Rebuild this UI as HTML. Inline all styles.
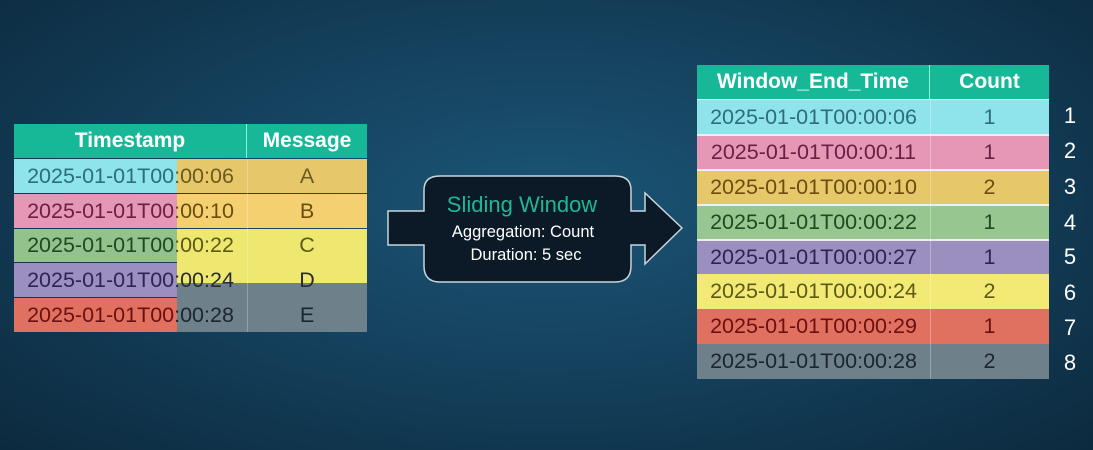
<!DOCTYPE html>
<html><head><meta charset="utf-8"><style>
body{margin:0;width:1093px;height:450px;overflow:hidden;background:radial-gradient(ellipse at 50% 45%,#1b5575 0%,#14405c 50%,#0c2a3e 100%);font-family:"Liberation Sans",sans-serif;position:relative}
.c{position:absolute;display:flex;align-items:center;justify-content:center;box-sizing:border-box;font-size:21.5px}
.h{background:#17b897;color:#fff;font-weight:bold;font-size:21px}
.n{position:absolute;color:#fff;font-size:22px;width:20px;text-align:center}
</style></head><body>
<!-- left table -->
<div class="c h" style="left:14px;top:124px;width:233px;height:34px;border-right:1px solid #8fd;">Timestamp</div>
<div class="c h" style="left:247px;top:124px;width:120px;height:34px">Message</div>
<div class="c" style="left:14px;top:159px;width:353px;height:34px;background:#8fe3ea"></div>
<div class="c" style="left:14px;top:194px;width:353px;height:34px;background:#e597b5"></div>
<div class="c" style="left:14px;top:229px;width:353px;height:33px;background:#93c28c"></div>
<div class="c" style="left:14px;top:263px;width:353px;height:34px;background:#9b8fc0"></div>
<div class="c" style="left:14px;top:298px;width:353px;height:34px;background:#e0705f"></div>
<div style="position:absolute;left:177px;top:159px;width:190px;height:34px;background:#e6c86a"></div>
<div style="position:absolute;left:177px;top:194px;width:190px;height:34px;background:#f5d070"></div>
<div style="position:absolute;left:177px;top:229px;width:190px;height:54px;background:#eee870"></div>
<div style="position:absolute;left:177px;top:283px;width:190px;height:49px;background:#6e808a"></div>
<div style="position:absolute;left:247px;top:159px;width:1px;height:173px;background:rgba(255,255,255,.25)"></div>
<div class="c" style="left:14px;top:159px;width:233px;height:34px;color:#2d6e78">2025-01-01T00<span style="color:#6b5a20">:00:06</span></div>
<div class="c" style="left:14px;top:194px;width:233px;height:34px;color:#6a1f45">2025-01-01T00<span style="color:#6b4d10">:00:10</span></div>
<div class="c" style="left:14px;top:229px;width:233px;height:33px;color:#1f4a1f">2025-01-01T00<span style="color:#5c5a15">:00:22</span></div>
<div class="c" style="left:14px;top:263px;width:233px;height:34px;color:#2f2355">2025-01-01T00<span style="color:#2a2a35">:00:24</span></div>
<div class="c" style="left:14px;top:298px;width:233px;height:34px;color:#6b1010">2025-01-01T00<span style="color:#1a2530">:00:28</span></div>
<div class="c" style="left:247px;top:159px;width:120px;height:34px;color:#6b5a20">A</div>
<div class="c" style="left:247px;top:194px;width:120px;height:34px;color:#6b4d10">B</div>
<div class="c" style="left:247px;top:229px;width:120px;height:33px;color:#5c5a15">C</div>
<div class="c" style="left:247px;top:263px;width:120px;height:34px;color:#2a2a35">D</div>
<div class="c" style="left:247px;top:298px;width:120px;height:34px;color:#1a2530">E</div>
<!-- arrow -->
<svg style="position:absolute;left:0;top:0" width="1093" height="450">
<path d="M388 211 H424 V190 Q424 176 440 176 H615 Q631 176 631 190 V211 H645 V193 L682 228 L645 264 V245 H631 V266 Q631 282 615 282 H440 Q424 282 424 266 V245 H388 Z" fill="#0b1a26" stroke="#c8d4dc" stroke-width="1.5"/>
<text x="522" y="212" text-anchor="middle" fill="#1fb894" font-size="22" font-family="Liberation Sans">Sliding Window</text>
<text x="523" y="237" text-anchor="middle" fill="#fff" font-size="16.5" font-family="Liberation Sans">Aggregation: Count</text>
<text x="526" y="260" text-anchor="middle" fill="#fff" font-size="16.5" font-family="Liberation Sans">Duration: 5 sec</text>
</svg>
<!-- right table -->
<div class="c h" style="left:697px;top:65px;width:233px;height:34px;border-right:1px solid #8fd">Window_End_Time</div>
<div class="c h" style="left:930px;top:65px;width:119px;height:34px">Count</div>
<div class="c" style="left:697px;top:99px;width:233px;height:35px;background:#8fe3ea;color:#2d6e78;border-top:1px solid #cfe">2025-01-01T00:00:06</div><div class="c" style="left:930px;top:99px;width:119px;height:35px;background:#8fe3ea;color:#2d6e78;border-top:1px solid #cfe">1</div>
<div class="c" style="left:697px;top:134px;width:233px;height:35px;background:#e597b5;color:#6a1f45;border-top:2px solid #eee">2025-01-01T00:00:11</div><div class="c" style="left:930px;top:134px;width:119px;height:35px;background:#e597b5;color:#6a1f45;border-top:2px solid #eee">1</div>
<div class="c" style="left:697px;top:169px;width:233px;height:35px;background:#e6c86a;color:#6b4d10;border-top:2px solid #eee">2025-01-01T00:00:10</div><div class="c" style="left:930px;top:169px;width:119px;height:35px;background:#e6c86a;color:#6b4d10;border-top:2px solid #eee">2</div>
<div class="c" style="left:697px;top:204px;width:233px;height:35px;background:#97c690;color:#1f4a1f;border-top:2px solid #eee">2025-01-01T00:00:22</div><div class="c" style="left:930px;top:204px;width:119px;height:35px;background:#97c690;color:#1f4a1f;border-top:2px solid #eee">1</div>
<div class="c" style="left:697px;top:239px;width:233px;height:35px;background:#9b8fc0;color:#2f2355;border-top:2px solid #eee">2025-01-01T00:00:27</div><div class="c" style="left:930px;top:239px;width:119px;height:35px;background:#9b8fc0;color:#2f2355;border-top:2px solid #eee">1</div>
<div class="c" style="left:697px;top:274px;width:233px;height:35px;background:#f2ea75;color:#5c5a15">2025-01-01T00:00:24</div><div class="c" style="left:930px;top:274px;width:119px;height:35px;background:#f2ea75;color:#5c5a15">2</div>
<div class="c" style="left:697px;top:309px;width:233px;height:35px;background:#e0705f;color:#6b1010">2025-01-01T00:00:29</div><div class="c" style="left:930px;top:309px;width:119px;height:35px;background:#e0705f;color:#6b1010">1</div>
<div class="c" style="left:697px;top:344px;width:233px;height:35px;background:#6e808a;color:#1a2530">2025-01-01T00:00:28</div><div class="c" style="left:930px;top:344px;width:119px;height:35px;background:#6e808a;color:#1a2530">2</div>
<div style="position:absolute;left:930px;top:99px;width:1px;height:280px;background:rgba(255,255,255,.3)"></div>
<div class="n" style="left:1060px;top:103px">1</div>
<div class="n" style="left:1060px;top:138px">2</div>
<div class="n" style="left:1060px;top:174px">3</div>
<div class="n" style="left:1060px;top:210px">4</div>
<div class="n" style="left:1060px;top:244px">5</div>
<div class="n" style="left:1060px;top:280px">6</div>
<div class="n" style="left:1060px;top:315px">7</div>
<div class="n" style="left:1060px;top:350px">8</div>
</body></html>
